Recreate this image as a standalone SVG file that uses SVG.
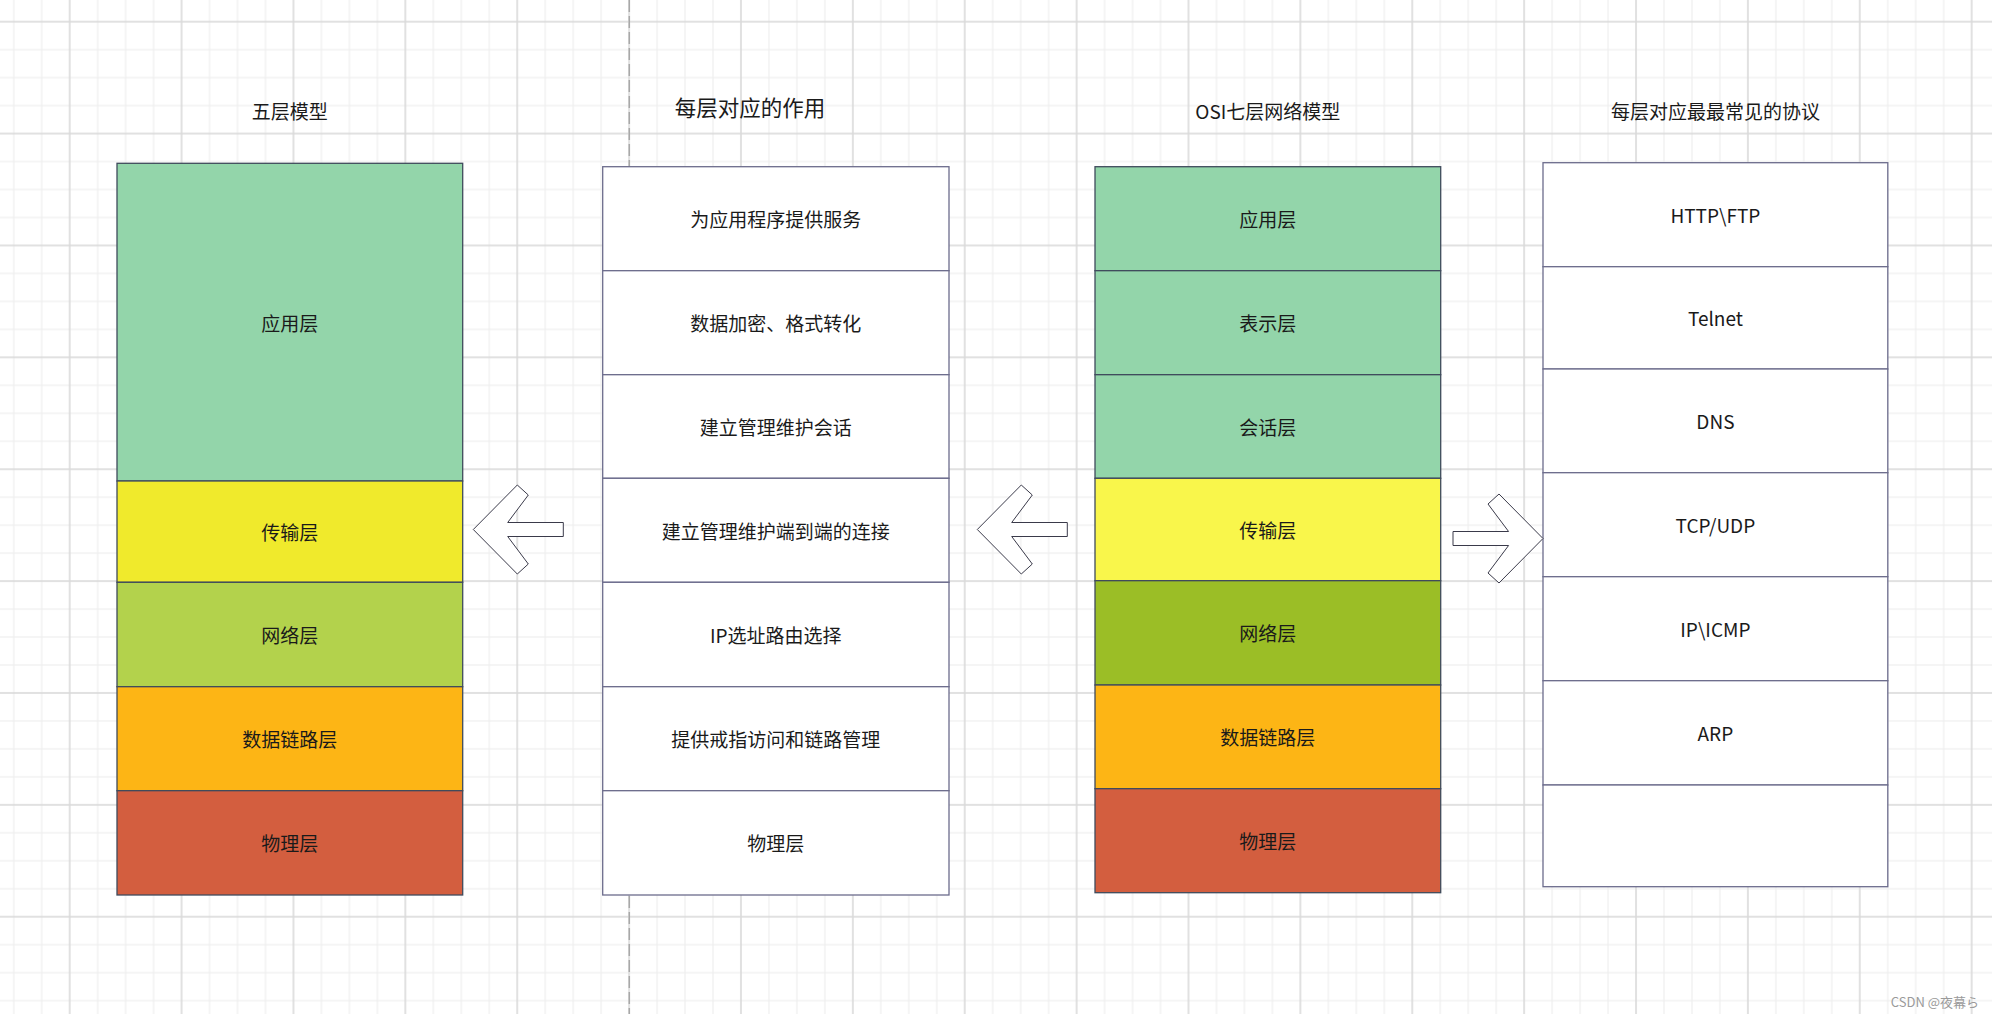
<svg xmlns="http://www.w3.org/2000/svg" width="1992" height="1014" viewBox="0 0 1992 1014">
<style>
text{font-family:"Noto Sans CJK SC","Noto Sans",sans-serif;font-size:19px;fill:#1a1a1a;text-anchor:middle;dominant-baseline:central}
.c{stroke:#3f4b5c;stroke-width:1.3}
.w{fill:#ffffff;stroke:#6c6c8c;stroke-width:1.3}
.g{fill:#93d5aa}
.arr{fill:#ffffff;stroke:#3a3a4a;stroke-width:1}
.wm{font-size:13px;fill:#9a9a9a;text-anchor:end}
</style>
<defs>
<pattern id="grid" patternUnits="userSpaceOnUse" x="55.715" y="7.715" width="111.88" height="111.88">
<rect x="0" y="41.455" width="111.88" height="1" fill="#ececec"/>
<rect x="0" y="69.425" width="111.88" height="1" fill="#ececec"/>
<rect x="0" y="97.395" width="111.88" height="1" fill="#ececec"/>
<rect x="41.455" y="0" width="1" height="111.88" fill="#ececec"/>
<rect x="69.425" y="0" width="1" height="111.88" fill="#ececec"/>
<rect x="97.395" y="0" width="1" height="111.88" fill="#ececec"/>
<rect x="0" y="13.185" width="111.88" height="1.6" fill="#dadada"/>
<rect x="13.185" y="0" width="1.6" height="111.88" fill="#dadada"/>
</pattern>
</defs>
<rect x="0" y="0" width="1992" height="1014" fill="#ffffff"/>
<rect x="0" y="0" width="1992" height="1014" fill="url(#grid)"/>
<line x1="629.3" y1="0" x2="629.3" y2="1014" stroke="#a8a8a8" stroke-width="1.5" stroke-dasharray="12 4"/>

<g id="titles">
<text x="289.8" y="110">五层模型</text>
<text x="750" y="106.5" style="font-size:21.5px">每层对应的作用</text>
<text x="1267.8" y="110">OSI七层网络模型</text>
<text x="1715.4" y="110">每层对应最最常见的协议</text>
</g>

<g id="five-layer">
<g id="f-app"><rect class="c g" x="117" y="163.3" width="345.7" height="317.7"/><text x="289.8" y="322.2">应用层</text></g>
<g id="f-trans"><rect class="c" fill="#f0ea2c" x="117" y="481" width="345.7" height="101.3"/><text x="289.8" y="531.6">传输层</text></g>
<g id="f-net"><rect class="c" fill="#b3d24c" x="117" y="582.3" width="345.7" height="104.4"/><text x="289.8" y="634.5">网络层</text></g>
<g id="f-link"><rect class="c" fill="#fdb515" x="117" y="686.7" width="345.7" height="104"/><text x="289.8" y="738.7">数据链路层</text></g>
<g id="f-phy"><rect class="c" fill="#d35e3f" x="117" y="790.7" width="345.7" height="104.3"/><text x="289.8" y="842.8">物理层</text></g>
</g>

<g id="functions">
<g id="m1"><rect class="w" x="602.7" y="166.7" width="346.3" height="104"/><text x="775.8" y="218.7">为应用程序提供服务</text></g>
<g id="m2"><rect class="w" x="602.7" y="270.7" width="346.3" height="104"/><text x="775.8" y="322.7">数据加密、格式转化</text></g>
<g id="m3"><rect class="w" x="602.7" y="374.7" width="346.3" height="103.6"/><text x="775.8" y="426.5">建立管理维护会话</text></g>
<g id="m4"><rect class="w" x="602.7" y="478.3" width="346.3" height="104"/><text x="775.8" y="530.3">建立管理维护端到端的连接</text></g>
<g id="m5"><rect class="w" x="602.7" y="582.3" width="346.3" height="104.4"/><text x="775.8" y="634.5">IP选址路由选择</text></g>
<g id="m6"><rect class="w" x="602.7" y="686.7" width="346.3" height="104"/><text x="775.8" y="738.7">提供戒指访问和链路管理</text></g>
<g id="m7"><rect class="w" x="602.7" y="790.7" width="346.3" height="104.3"/><text x="775.8" y="842.8">物理层</text></g>
</g>

<g id="osi">
<g id="o1"><rect class="c g" x="1095" y="166.7" width="345.7" height="104"/><text x="1267.8" y="218.7">应用层</text></g>
<g id="o2"><rect class="c g" x="1095" y="270.7" width="345.7" height="104"/><text x="1267.8" y="322.7">表示层</text></g>
<g id="o3"><rect class="c g" x="1095" y="374.7" width="345.7" height="103.6"/><text x="1267.8" y="426.5">会话层</text></g>
<g id="o4"><rect class="c" fill="#f9f64b" x="1095" y="478.3" width="345.7" height="102.4"/><text x="1267.8" y="529.5">传输层</text></g>
<g id="o5"><rect class="c" fill="#9bbe26" x="1095" y="580.7" width="345.7" height="104.3"/><text x="1267.8" y="632.8">网络层</text></g>
<g id="o6"><rect class="c" fill="#fdb515" x="1095" y="685" width="345.7" height="103.7"/><text x="1267.8" y="736.8">数据链路层</text></g>
<g id="o7"><rect class="c" fill="#d35e3f" x="1095" y="788.7" width="345.7" height="104"/><text x="1267.8" y="840.7">物理层</text></g>
</g>

<g id="protocols">
<g id="p1"><rect class="w" x="1543" y="162.7" width="344.8" height="104"/><text x="1715.4" y="214.7">HTTP\FTP</text></g>
<g id="p2"><rect class="w" x="1543" y="266.7" width="344.8" height="102.3"/><text x="1715.4" y="317.8">Telnet</text></g>
<g id="p3"><rect class="w" x="1543" y="369" width="344.8" height="103.7"/><text x="1715.4" y="420.8">DNS</text></g>
<g id="p4"><rect class="w" x="1543" y="472.7" width="344.8" height="104"/><text x="1715.4" y="524.7">TCP/UDP</text></g>
<g id="p5"><rect class="w" x="1543" y="576.7" width="344.8" height="104"/><text x="1715.4" y="628.7">IP\ICMP</text></g>
<g id="p6"><rect class="w" x="1543" y="680.7" width="344.8" height="104.3"/><text x="1715.4" y="732.8">ARP</text></g>
<g id="p7"><rect class="w" x="1543" y="785" width="344.8" height="101.7"/></g>
</g>

<g id="connectors">
<polygon class="arr" points="473.3,529.5 517.3,485 528.3,495 507.7,522.5 563.3,522.5 563.3,536.5 507.7,536.5 528.3,564 517.3,574"/>
<polygon class="arr" points="977.3,529.5 1021.3,485 1032.3,495 1011.7,522.5 1067.3,522.5 1067.3,536.5 1011.7,536.5 1032.3,564 1021.3,574"/>
<polygon class="arr" points="1543,538.5 1499,494 1488,504 1508.6,531.5 1453,531.5 1453,545.5 1508.6,545.5 1488,573 1499,583"/>
</g>

<text class="wm" x="1979" y="1001">CSDN @夜幕ら</text>
</svg>
